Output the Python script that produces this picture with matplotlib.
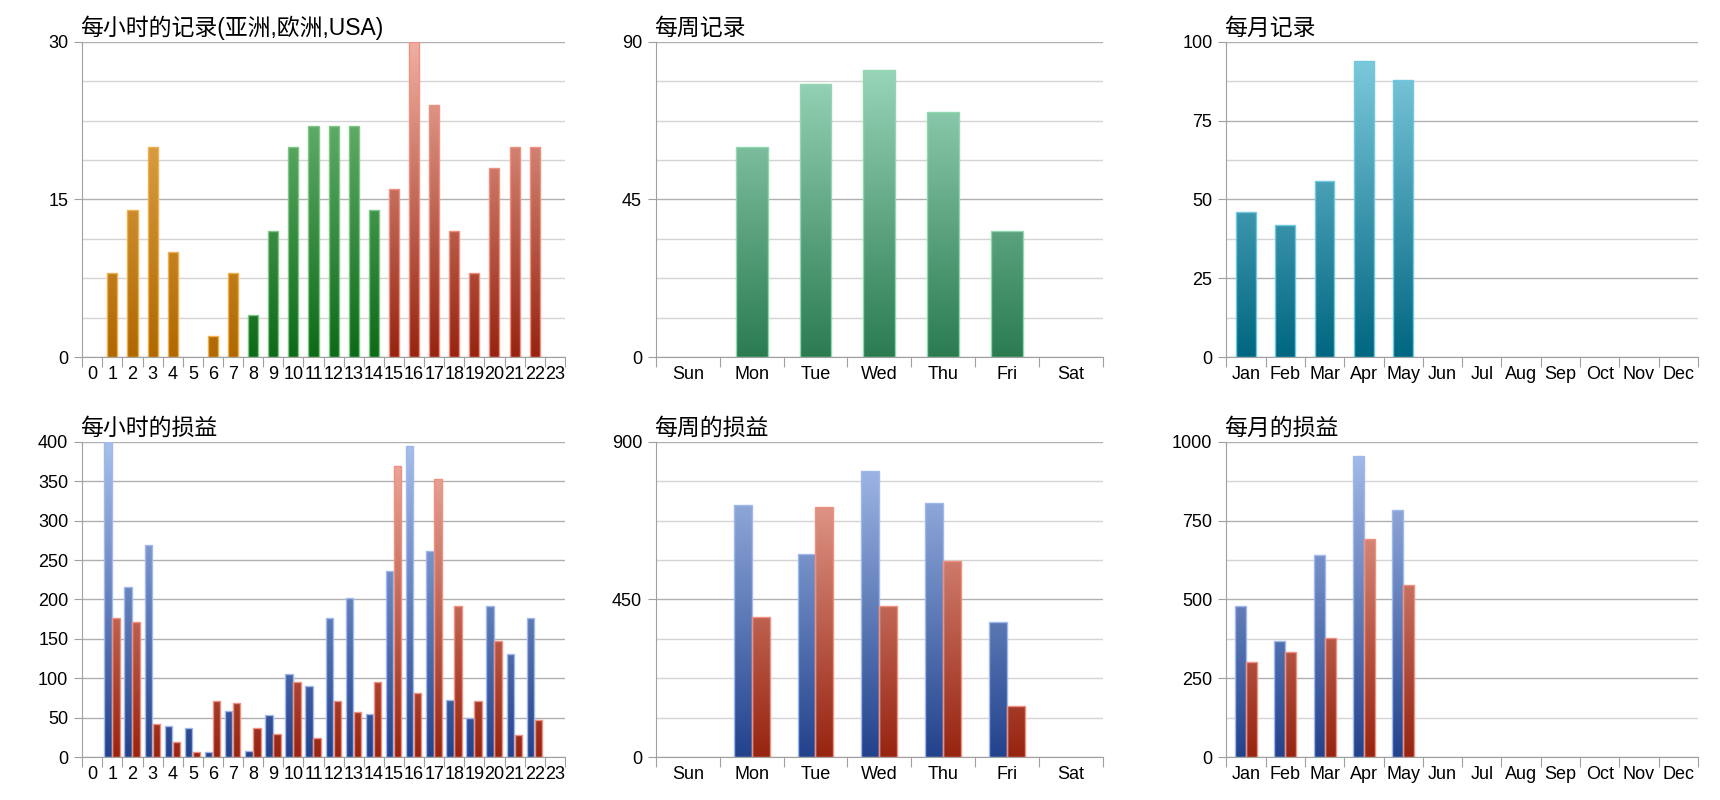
import numpy as np
import matplotlib
matplotlib.use("Agg")
import matplotlib.pyplot as plt
from matplotlib.colors import LinearSegmentedColormap
from matplotlib.ticker import MultipleLocator, FixedLocator

plt.rcParams['font.family'] = ['Liberation Sans', 'Noto Sans CJK SC', 'DejaVu Sans']

hours = [str(h) for h in range(24)]
hour_records = [0, 8, 14, 20, 10, 0, 2, 8, 4, 12, 20, 22, 22, 22, 14, 16, 30, 24, 12, 8, 18, 20, 20, 0]
hour_profit_blue = [0, 400, 216, 269, 40, 37, 7, 59, 8, 53, 106, 90, 177, 202, 55, 236, 395, 262, 72, 50, 192, 131, 176, 0]
hour_profit_red = [0, 176, 172, 42, 19, 7, 71, 69, 37, 30, 96, 24, 71, 57, 95, 369, 81, 353, 192, 71, 148, 28, 47, 0]
days = ["Sun", "Mon", "Tue", "Wed", "Thu", "Fri", "Sat"]
day_records = [0, 60, 78, 82, 70, 36, 0]
day_profit_blue = [0, 720, 580, 815, 725, 385, 0]
day_profit_red = [0, 400, 715, 430, 560, 145, 0]
months = ["Jan", "Feb", "Mar", "Apr", "May", "Jun", "Jul", "Aug", "Sep", "Oct", "Nov", "Dec"]
month_records = [46, 42, 56, 94, 88, 0, 0, 0, 0, 0, 0, 0]
month_profit_blue = [478, 368, 642, 955, 785, 0, 0, 0, 0, 0, 0, 0]
month_profit_red = [302, 335, 378, 693, 547, 0, 0, 0, 0, 0, 0, 0]

ORANGE = ("#b06800", "#ecb560", "#f0b050")
GREEN = ("#0d6a18", "#7cc283", "#80c888")
RED = ("#962410", "#f0b0a2", "#f09080")
BLUE = ("#22428c", "#a8c0ec", "#a0b8ec")
WGREEN = ("#2a7c50", "#a4ddc4", "#90d8b0")
TEAL = ("#006680", "#84cfe2", "#70c8e0")

fig = plt.figure(figsize=(17.2, 8), dpi=100)


def grad_bars(ax, x, h, w, col, ymax):
    bottom, top, edge = col
    cmap = LinearSegmentedColormap.from_list("g", [bottom, top])
    bars = ax.bar(x, h, width=w, align='edge', color='none', edgecolor=edge, linewidth=1, zorder=3)
    grad = np.linspace(0, 1, 256).reshape(-1, 1)
    for b in bars:
        if b.get_height() <= 0:
            b.set_visible(False)
            continue
        im = ax.imshow(grad, cmap=cmap, origin='lower', aspect='auto',
                       extent=(0, 1, 0, ymax), zorder=2, interpolation='bilinear')
        im.set_extent((b.get_x(), b.get_x() + b.get_width(), 0, ymax))
        im.set_clip_path(b)


def setup(ax, cats, ymax, major, minor, title):
    n = len(cats)
    ax.set_xlim(0, n)
    ax.set_ylim(0, ymax)
    ax.xaxis.set_major_locator(FixedLocator(np.arange(n + 1)))
    ax.xaxis.set_major_formatter(plt.NullFormatter())
    ax.xaxis.set_minor_locator(FixedLocator(np.arange(n) + 0.5))
    ax.set_xticklabels(cats, minor=True)
    ax.tick_params(axis='x', which='minor', length=0, labelsize=13, pad=6)
    ax.tick_params(axis='x', which='major', length=7, color='#a0a0a0')
    ax.yaxis.set_major_locator(MultipleLocator(major))
    ax.yaxis.set_minor_locator(MultipleLocator(minor))
    ax.tick_params(axis='y', which='major', length=6, color='#a0a0a0', labelsize=13, pad=4)
    ax.tick_params(axis='y', which='minor', length=0)
    ax.grid(axis='y', which='major', color='#b0b0b0', linewidth=1, zorder=0)
    ax.grid(axis='y', which='minor', color='#d4d4d4', linewidth=1, zorder=0)
    ax.set_axisbelow(True)
    for s in ('top', 'right'):
        ax.spines[s].set_visible(False)
    for s in ('left', 'bottom'):
        ax.spines[s].set_color('#a0a0a0')
    ax.set_title(title, loc='left', fontsize=16.5, pad=5, x=-0.005)


cols = [(0.0478, 0.2806), (0.3814, 0.2596), (0.713, 0.2742)]
rows = [0.5534, 0.0534]
H = 0.3945

ax = fig.add_axes([cols[0][0], rows[0], cols[0][1], H])
setup(ax, hours, 30, 15, 3.75, "每小时的记录(亚洲,欧洲,USA)")
xs = np.arange(24)
for lo, hi, c in [(0, 8, ORANGE), (8, 15, GREEN), (15, 24, RED)]:
    grad_bars(ax, xs[lo:hi] + 0.25, hour_records[lo:hi], 0.5, c, 30)

ax = fig.add_axes([cols[1][0], rows[0], cols[1][1], H])
setup(ax, days, 90, 45, 11.25, "每周记录")
grad_bars(ax, np.arange(7) + 0.25, day_records, 0.5, WGREEN, 90)

ax = fig.add_axes([cols[2][0], rows[0], cols[2][1], H])
setup(ax, months, 100, 25, 12.5, "每月记录")
grad_bars(ax, np.arange(12) + 0.25, month_records, 0.5, TEAL, 100)

ax = fig.add_axes([cols[0][0], rows[1], cols[0][1], H])
setup(ax, hours, 400, 50, 50, "每小时的损益")
grad_bars(ax, xs + 0.1, hour_profit_blue, 0.37, BLUE, 400)
grad_bars(ax, xs + 0.5, hour_profit_red, 0.37, RED, 400)

ax = fig.add_axes([cols[1][0], rows[1], cols[1][1], H])
setup(ax, days, 900, 450, 112.5, "每周的损益")
grad_bars(ax, np.arange(7) + 0.22, day_profit_blue, 0.28, BLUE, 900)
grad_bars(ax, np.arange(7) + 0.5, day_profit_red, 0.28, RED, 900)

ax = fig.add_axes([cols[2][0], rows[1], cols[2][1], H])
setup(ax, months, 1000, 250, 125, "每月的损益")
grad_bars(ax, np.arange(12) + 0.22, month_profit_blue, 0.28, BLUE, 1000)
grad_bars(ax, np.arange(12) + 0.5, month_profit_red, 0.28, RED, 1000)

fig.savefig("out.png", dpi=100)
